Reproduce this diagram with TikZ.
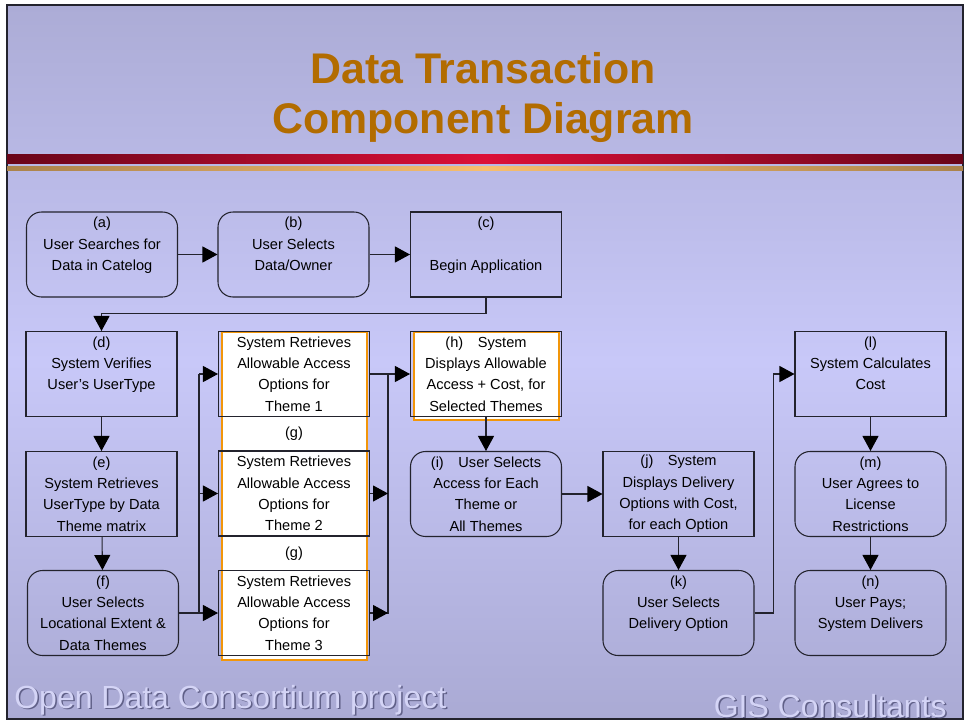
\documentclass[tikz,border=0pt]{standalone}
\usepackage{fontspec}
\setmainfont{Liberation Sans}
\usetikzlibrary{arrows.meta}

\definecolor{slidetop}{RGB}{172,172,214}
\definecolor{slidemid}{RGB}{200,200,248}
\definecolor{slidebot}{RGB}{170,170,212}
\definecolor{titlebrown}{RGB}{178,108,0}
\definecolor{bardark}{RGB}{105,5,25}
\definecolor{barred}{RGB}{220,16,56}
\definecolor{golddark}{RGB}{170,130,75}
\definecolor{goldlight}{RGB}{248,190,110}
\definecolor{hiorange}{RGB}{242,150,10}
\definecolor{footlav}{RGB}{212,212,246}
\definecolor{footshade}{RGB}{96,96,136}
\definecolor{edge}{RGB}{35,35,45}

\newcommand\boxfont{\fontsize{8.3}{12.1}\selectfont}
\newcommand\footfont{\fontsize{18.2}{22}\selectfont}

\begin{document}
\begin{tikzpicture}[x=0.02cm, y=-0.02cm,
    proc/.style={draw=edge, rectangle, minimum width=3.02cm, minimum height=1.7cm,
                 inner sep=0pt, align=center, font=\boxfont, line width=0.6pt},
    usr/.style={proc, rounded corners=0.3cm},
    flow/.style={draw=edge, line width=0.6pt, -{Triangle[length=0.3cm,width=0.32cm,color=black]}},
    link/.style={draw=edge, line width=0.6pt},
    hilite/.style={draw=hiorange, line width=1pt, fill=white},
    foot/.style={font=\footfont, inner sep=0pt}]

    % slide
    \useasboundingbox (0,0) rectangle (968,724);
    \fill[white] (0,0) rectangle (968,724);
    \shade[top color=slidetop, bottom color=slidebot, middle color=slidemid] (7,5) rectangle (963,719);
    \draw[edge, line width=1pt] (7,5) rectangle (963,719);
    \shade[left color=bardark, right color=bardark, middle color=barred] (7,154) rectangle (963,163);
    \shade[left color=golddark, right color=golddark, middle color=goldlight] (7,166) rectangle (963,170);

    \node[text=titlebrown, font=\fontsize{24.4}{28}\bfseries\selectfont, anchor=base] (title1) at (483,83) {Data Transaction};
    \node[text=titlebrown, font=\fontsize{24.4}{28}\bfseries\selectfont, anchor=base] (title2) at (483,133) {Component Diagram};

    % white backing of the theme steps and of (h)
    \draw[hilite] (222,332) rectangle (367,660);
    \draw[hilite] (414,332) rectangle (559,420);

    % steps
    \node[usr] (a) at (102,254.5) {(a)\\User Searches for\\Data in Catelog\\\mbox{}};
    \node[usr] (b) at (293.5,254.5) {(b)\\User Selects\\Data/Owner\\\mbox{}};
    \node[proc] (c) at (486,254.5) {(c)\\\mbox{}\\Begin Application\\\mbox{}};
    \node[proc] (d) at (101.5,374) {(d)\\System Verifies\\User's UserType\\\mbox{}};
    \node[proc] (e) at (101.5,494) {(e)\\System Retrieves\\UserType by Data\\Theme matrix};
    \node[usr] (f) at (103,613) {(f)\\User Selects\\Locational Extent \&\\Data Themes};
    \node[proc] (g1) at (294,374) {System Retrieves\\Allowable Access\\Options for\\Theme 1};
    \node[proc] (g2) at (294,493.5) {System Retrieves\\Allowable Access\\Options for\\Theme 2};
    \node[proc] (g3) at (294,613) {System Retrieves\\Allowable Access\\Options for\\Theme 3};
    \node[font=\boxfont] (glab2) at (294,434) {(g)};
    \node[font=\boxfont] (glab3) at (294,554) {(g)};
    \node[proc] (h) at (486,374) {(h)\quad System\\Displays Allowable\\Access + Cost, for\\Selected Themes};
    \node[usr] (i) at (486,494) {(i)\quad User Selects\\Access for Each\\Theme or\\All Themes};
    \node[proc] (j) at (678.5,494) {(j)\quad System\\Displays Delivery\\Options with Cost,\\for each Option};
    \node[usr] (k) at (678.5,613) {(k)\\User Selects\\Delivery Option\\\mbox{}};
    \node[proc] (l) at (870.5,374) {(l)\\System Calculates\\Cost\\\mbox{}};
    \node[usr] (m) at (870.5,494) {(m)\\User Agrees to\\License\\Restrictions};
    \node[usr] (n) at (870.5,613) {(n)\\User Pays;\\System Delivers\\\mbox{}};

    % flow
    \draw[flow] (a) -- (b);
    \draw[flow] (b) -- (c);
    \draw[flow] (c.south) -- ++(0,16) -| (d.north);
    \draw[flow] (d) -- (e);
    \draw[flow] (e) -- (f);
    \coordinate (fbus) at (199,374);
    \draw[link] (f.east) -| (fbus);
    \draw[flow] (fbus) -- (g1.west);
    \draw[flow] (fbus |- g2.west) -- (g2.west);
    \draw[flow] (f.east) -- (g3.west);
    \coordinate (hbus) at (388,374);
    \draw[flow] (g1.east) -- (h.west);
    \draw[link] (g3.east) -| (hbus);
    \draw[flow] (g2.east) -- (g2.east -| hbus);
    \draw[flow] (g3.east) -- (g3.east -| hbus);
    \draw[flow] (h) -- (i);
    \draw[flow] (i) -- (j);
    \draw[flow] (j) -- (k);
    \draw[flow] (k.east) -- ++(19,0) |- (l.west);
    \draw[flow] (l) -- (m);
    \draw[flow] (m) -- (n);

    % footer
    \node[foot, text=footshade, anchor=base west] (odcshade) at (15.5,709.5) {Open Data Consortium project};
    \node[foot, text=footlav, anchor=base west] (odc) at (14,708) {Open Data Consortium project};
    \node[foot, text=footshade, anchor=base east] (gisshade) at (948.5,718.5) {GIS Consultants};
    \node[foot, text=footlav, anchor=base east] (gis) at (947,717) {GIS Consultants};
\end{tikzpicture}
\end{document}
